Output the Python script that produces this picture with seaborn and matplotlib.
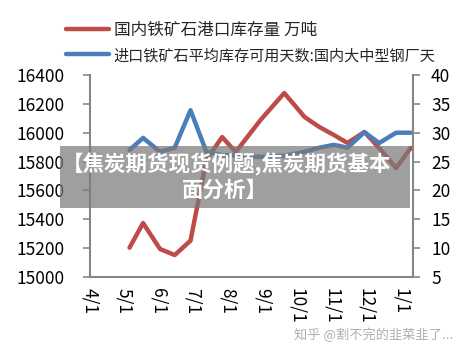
import pandas as pd
import matplotlib
matplotlib.use("Agg")
import matplotlib.pyplot as plt
import seaborn as sns

# data (biweekly points)
dates = ["2012-05-06", "2012-05-18", "2012-06-02", "2012-06-15", "2012-06-29",
         "2012-07-13", "2012-07-27", "2012-08-08", "2012-08-30", "2012-09-20",
         "2012-10-08", "2012-10-21", "2012-11-03", "2012-11-15", "2012-11-30",
         "2012-12-13", "2012-12-28", "2013-01-10"]
port_stock = [15203, 15374, 15194, 15152, 15252, 15811, 15970, 15866, 16088, 16275,
              16109, 16040, 15984, 15929, 16005, 15894, 15755, 15894]
usable_days = [27.0, 29.1, 26.7, 27.4, 33.9, 26.7, 26.1, 26.1, 25.8, 26.0,
               26.7, 27.4, 27.9, 27.4, 30.1, 28.2, 30.0, 30.0]
tick_dates = ["2012-04-01", "2012-05-01", "2012-06-01", "2012-07-01", "2012-08-01",
              "2012-09-01", "2012-10-01", "2012-11-01", "2012-12-01", "2013-01-01"]
tick_labels = ["4/1", "5/1", "6/1", "7/1", "8/1", "9/1", "10/1", "11/1", "12/1", "1/1"]

red_name = "国内铁矿石港口库存量 万吨"
blue_name = "进口铁矿石平均库存可用天数:国内大中型钢厂天"

df = pd.DataFrame({"date": pd.to_datetime(dates), "stock": port_stock, "days": usable_days})

sns.set_style("white")
plt.rcParams["font.family"] = ["Noto Sans CJK SC", "DejaVu Sans"]

fig = plt.figure(figsize=(4.72, 3.54), dpi=100)
ax = fig.add_axes([90 / 472, 1 - 277 / 354, (413 - 90) / 472, (277 - 75) / 354])
ax2 = ax.twinx()

red = "#BE4B48"
blue = "#4A7EBB"
sns.lineplot(data=df, x="date", y="stock", ax=ax, color=red, linewidth=3.2, label=red_name, legend=False)
sns.lineplot(data=df, x="date", y="days", ax=ax2, color=blue, linewidth=3.2, label=blue_name, legend=False)

ax.set_xlim(pd.Timestamp("2012-04-01"), pd.Timestamp("2013-01-12"))
ax.set_ylim(15000, 16400)
ax.set_yticks(range(15000, 16401, 200))
ax2.set_ylim(5, 40)
ax2.set_yticks(range(5, 41, 5))
ax.set_xticks(pd.to_datetime(tick_dates))
ax.set_xticklabels(tick_labels, rotation=270)

ax.set_xlabel("")
ax.set_ylabel("")
ax2.set_ylabel("")
for a in (ax, ax2):
    for s in a.spines.values():
        s.set_visible(False)
    a.tick_params(colors="#868686", labelcolor="black", labelsize=12.5, length=5, width=1.2)
ax.spines["left"].set_visible(True)
ax.spines["bottom"].set_visible(True)
ax2.spines["right"].set_visible(True)
for s in (ax.spines["left"], ax.spines["bottom"], ax2.spines["right"]):
    s.set_color("#868686")
    s.set_linewidth(1.5)
ax.tick_params(axis="x", pad=3)
ax.tick_params(axis="y", left=True, pad=13)
ax2.tick_params(axis="y", right=True, pad=8)

# legend at the top
h1, l1 = ax.get_legend_handles_labels()
h2, l2 = ax2.get_legend_handles_labels()
leg = fig.legend(h1 + h2, l1 + l2, loc="upper left", bbox_to_anchor=(51 / 472, 1 - 7 / 354),
                 frameon=False, fontsize=12, handlelength=2.6, handletextpad=0.25,
                 labelspacing=0.5)
leg.get_texts()[1].set_fontsize(10.9)

# overlay banner
fig.patches.append(plt.Rectangle((60 / 472, 1 - 208 / 354), 350 / 472, 62 / 354,
                                 transform=fig.transFigure, facecolor="#7a7a7a",
                                 alpha=0.72, edgecolor="none", zorder=10))
fig.text(227 / 472, 1 - 164 / 354, "【焦炭期货现货例题,焦炭期货基本", color="white",
         fontsize=15.5, fontweight="bold", ha="center", va="center", zorder=11)
fig.text(225 / 472, 1 - 190 / 354, "面分析】", color="white",
         fontsize=15.5, fontweight="bold", ha="center", va="center", zorder=11)

fig.text(374 / 472, 1 - 335 / 354, "知乎 @割不完的韭菜韭了...", color="#b0b0b0",
         fontsize=9.5, ha="center", va="center")

fig.savefig("out.png", dpi=100)
